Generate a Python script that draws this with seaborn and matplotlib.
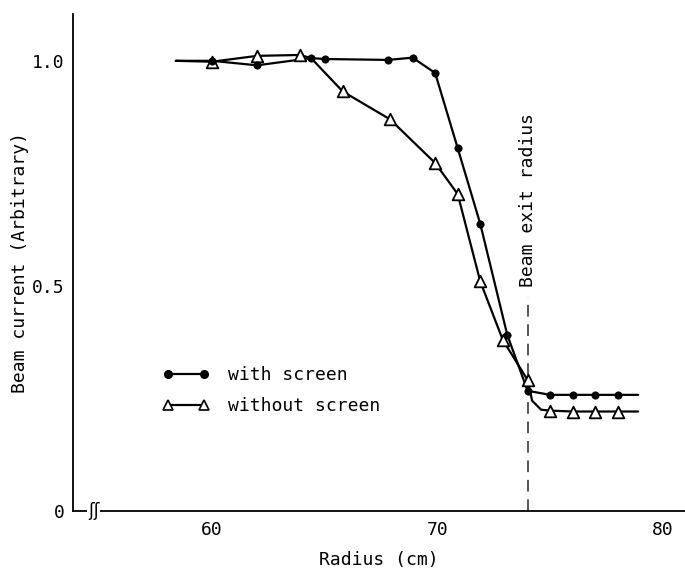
import matplotlib
matplotlib.use("Agg")
import matplotlib.pyplot as plt
from matplotlib.lines import Line2D
import seaborn as sns
import pandas as pd

# ---- data ----
with_x = [60.0, 62.0, 64.4, 65.0, 67.8, 68.9, 69.9, 70.9, 71.9, 73.1, 74.0, 75.0, 76.0, 77.0, 78.0]
with_y = [1.000, 0.990, 1.006, 1.004, 1.002, 1.007, 0.973, 0.806, 0.638, 0.391, 0.267, 0.258, 0.258, 0.258, 0.258]

without_x = [60.0, 62.0, 63.9, 65.8, 67.9, 69.9, 70.9, 71.9, 72.9, 74.0, 75.0, 76.0, 77.0, 78.0]
without_y = [0.998, 1.011, 1.013, 0.932, 0.870, 0.773, 0.704, 0.510, 0.380, 0.291, 0.223, 0.221, 0.221, 0.221]

# drawn curves (pass through the points, with the hand-drawn lead-in / tail)
with_curve_x = [58.4] + with_x + [78.9]
with_curve_y = [1.000] + with_y + [0.258]
without_curve_x = [58.4, 60.0, 62.0, 63.9, 64.4, 65.8, 67.9, 69.9, 70.9, 71.9, 72.9, 74.0, 74.2, 74.6, 75.0, 76.0, 77.0, 78.0, 78.9]
without_curve_y = [1.000, 0.998, 1.011, 1.013, 1.006, 0.932, 0.870, 0.773, 0.704, 0.510, 0.380, 0.291, 0.245, 0.225, 0.223, 0.221, 0.221, 0.221, 0.221]

exit_radius = 74.0
exit_line_top = 0.476

x_ticks = [60, 70, 80]
y_ticks = [0, 0.5, 1.0]
y_ticklabels = ["0", "0.5", "1.0"]
series_labels = ["with screen", "without screen"]

# ---- style ----
sns.set_theme(style="white")
plt.rcParams["font.family"] = ["DejaVu Sans Mono", "DejaVu Sans"]
plt.rcParams["text.color"] = "black"
FS = 13

fig = plt.figure(figsize=(6.85, 5.70), dpi=100)
ax = fig.add_axes([73 / 685, 59 / 570, 612 / 685, 497 / 570])

df_wc = pd.DataFrame({"x": with_curve_x, "y": with_curve_y})
df_woc = pd.DataFrame({"x": without_curve_x, "y": without_curve_y})
df_w = pd.DataFrame({"x": with_x, "y": with_y})
df_wo = pd.DataFrame({"x": without_x, "y": without_y})

sns.lineplot(data=df_wc, x="x", y="y", sort=False, estimator=None, color="black", lw=1.6, ax=ax, zorder=2)
sns.lineplot(data=df_woc, x="x", y="y", sort=False, estimator=None, color="black", lw=1.6, ax=ax, zorder=2)
sns.scatterplot(data=df_wo, x="x", y="y", marker="^", s=70, facecolor="white", edgecolor="black",
                linewidth=1.3, ax=ax, zorder=3)
sns.scatterplot(data=df_w, x="x", y="y", marker="o", s=28, color="black", edgecolor="black",
                linewidth=0.5, ax=ax, zorder=4)

# beam exit radius marker
ax.vlines(exit_radius, 0, exit_line_top, colors="#555555", linestyles=(0, (6, 4)), lw=1.4, zorder=1)
ax.text(exit_radius, 0.498, "Beam exit radius", rotation=90, ha="center", va="bottom",
        fontsize=FS, color="black")

ax.set_xlim(53.84, 80.98)
ax.set_ylim(0, 1.104)
ax.set_xticks(x_ticks)
ax.set_xticklabels([str(t) for t in x_ticks])
ax.set_yticks(y_ticks)
ax.set_yticklabels(y_ticklabels)
ax.tick_params(axis="x", direction="in", length=8.5, width=1.1, pad=7, labelsize=FS, colors="black")
ax.tick_params(axis="y", direction="in", length=8, width=1.1, pad=6, labelsize=FS, colors="black")
ax.set_xlabel("Radius (cm)", fontsize=FS, labelpad=9, color="black")
ax.set_ylabel("Beam current (Arbitrary)", fontsize=FS, labelpad=2, color="black")

for side in ["top", "right"]:
    ax.spines[side].set_visible(False)
for side in ["left", "bottom"]:
    ax.spines[side].set_color("black")
    ax.spines[side].set_linewidth(1.3)

# axis break mark
ax.text(54.75, 0, "ʃʃ", ha="center", va="center", fontsize=12, family="DejaVu Sans",
        color="black", clip_on=False, zorder=5,
        bbox=dict(facecolor="white", edgecolor="none", pad=0.5))

handles = [
    Line2D([], [], color="black", lw=1.6, marker="o", ms=5.5),
    Line2D([], [], color="black", lw=1.6, marker="^", ms=7, mfc="white", mec="black", mew=1.2),
]
ax.legend(handles, series_labels, loc="upper left", bbox_to_anchor=(0.147, 0.292),
          frameon=False, numpoints=2, fontsize=FS, handlelength=2.6, handletextpad=1.0,
          labelspacing=0.75, borderpad=0, borderaxespad=0, labelcolor="black")

fig.savefig("out.png", dpi=100)
